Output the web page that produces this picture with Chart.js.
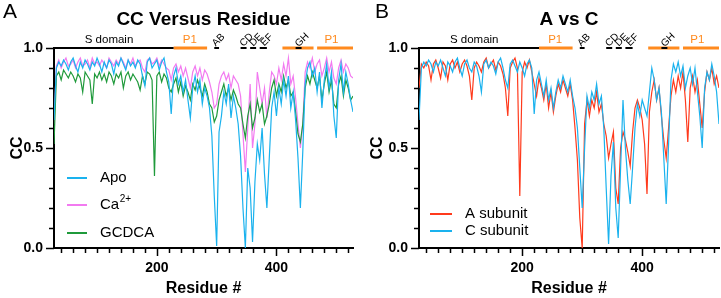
<!DOCTYPE html>
<html>
<head>
<meta charset="utf-8">
<script src="https://cdn.jsdelivr.net/npm/chart.js@4.4.1/dist/chart.umd.min.js"></script>
<style>
  body { margin: 0; background: #fff; }
  .panel { position: absolute; top: 0; height: 298px; }
  #panelA { left: 0; width: 360px; }
  #panelB { left: 360px; width: 361px; }
</style>
</head>
<body>
<div class="panel" id="panelA"><canvas id="chartA"></canvas></div>
<div class="panel" id="panelB"><canvas id="chartB"></canvas></div>
<script>
// residue numbers, sampled every 4 residues (28 .. 528)
const residues = Array.from({ length: 126 }, (_, i) => 28 + 4 * i);

// panel A: CC per residue
const apo = [
  .64,.90,.93,.91,.94,.92,.89,.93,.95,.91,
  .88,.93,.90,.94,.92,.89,.93,.91,.95,.92,
  .88,.93,.90,.94,.92,.87,.93,.91,.95,.92,
  .89,.94,.91,.93,.90,.94,.92,.86,.81,.93,
  .95,.90,.92,.94,.89,.93,.95,.88,.83,.67,
  .86,.90,.82,.86,.78,.84,.74,.65,.80,.86,
  .78,.84,.72,.80,.76,.70,.56,.26,.01,.58,
  .66,.78,.72,.82,.65,.76,.70,.62,.46,.20,
  .00,.40,.30,.03,.33,.52,.44,.60,.37,.20,
  .45,.70,.78,.66,.80,.72,.84,.76,.86,.70,
  .78,.64,.45,.20,.48,.82,.90,.93,.86,.90,
  .78,.88,.70,.84,.92,.80,.88,.66,.55,.84,
  .92,.78,.88,.82,.74,.68
];
const calcium = [
  .62,.91,.94,.90,.93,.95,.91,.92,.94,.90,
  .93,.95,.91,.92,.94,.90,.95,.92,.93,.91,
  .94,.92,.90,.95,.93,.91,.94,.92,.95,.93,
  .90,.94,.92,.95,.91,.93,.94,.90,.88,.94,
  .95,.92,.93,.95,.91,.94,.92,.90,.89,.84,
  .90,.92,.88,.91,.86,.90,.85,.80,.88,.91,
  .86,.90,.84,.89,.87,.83,.78,.70,.72,.82,
  .86,.88,.84,.87,.80,.86,.84,.82,.76,.57,
  .38,.60,.82,.50,.62,.88,.80,.72,.80,.65,
  .78,.88,.86,.82,.90,.84,.92,.86,.95,.82,
  .86,.75,.62,.50,.62,.88,.93,.90,.95,.88,
  .92,.94,.86,.90,.95,.88,.93,.85,.82,.90,
  .94,.88,.92,.90,.86,.85
];
const gcdca = [
  .52,.86,.88,.84,.89,.87,.85,.88,.86,.83,
  .87,.85,.78,.88,.86,.84,.72,.87,.85,.88,
  .84,.87,.83,.88,.86,.82,.87,.85,.88,.80,
  .86,.88,.84,.87,.85,.83,.79,.86,.82,.88,
  .87,.84,.36,.86,.88,.83,.87,.85,.80,.78,
  .82,.85,.78,.83,.76,.81,.78,.74,.82,.79,
  .84,.80,.76,.82,.78,.72,.70,.63,.66,.74,
  .78,.82,.76,.80,.74,.79,.76,.72,.70,.62,
  .55,.66,.72,.60,.65,.74,.68,.72,.62,.66,
  .72,.80,.84,.76,.82,.78,.86,.80,.84,.76,
  .78,.68,.57,.53,.62,.80,.86,.82,.88,.84,
  .80,.86,.74,.82,.88,.78,.84,.72,.70,.82,
  .86,.76,.84,.80,.74,.76
];

// panel B: A subunit vs C subunit
const subunitA = [
  .80,.92,.90,.93,.91,.84,.92,.94,.90,.85,
  .93,.91,.84,.92,.94,.90,.93,.88,.92,.94,
  .91,.86,.74,.90,.93,.91,.88,.93,.95,.90,
  .92,.94,.89,.93,.91,.87,.80,.66,.90,.93,
  .95,.90,.26,.88,.93,.90,.94,.88,.82,.76,
  .85,.80,.74,.82,.70,.78,.68,.76,.82,.78,
  .84,.80,.76,.82,.74,.60,.44,.15,.00,.62,
  .74,.66,.74,.70,.78,.68,.72,.62,.56,.45,
  .52,.58,.30,.22,.50,.58,.54,.48,.41,.58,
  .70,.74,.70,.64,.52,.27,.68,.78,.84,.74,
  .80,.66,.54,.45,.60,.76,.84,.78,.86,.80,
  .88,.74,.53,.80,.86,.78,.84,.72,.60,.78,
  .88,.84,.90,.82,.86,.80
];
const subunitC = [
  .64,.90,.93,.91,.94,.92,.88,.93,.91,.94,
  .90,.86,.93,.91,.88,.93,.95,.90,.86,.92,
  .94,.90,.88,.93,.91,.86,.78,.92,.94,.90,
  .93,.91,.87,.93,.95,.90,.84,.80,.92,.94,
  .91,.88,.93,.90,.86,.92,.94,.90,.67,.84,
  .88,.82,.76,.84,.74,.80,.70,.78,.84,.80,
  .86,.82,.78,.84,.76,.70,.60,.40,.20,.50,
  .76,.70,.78,.74,.82,.72,.76,.60,.30,.02,
  .36,.53,.20,.05,.40,.74,.50,.34,.22,.40,
  .60,.72,.66,.74,.70,.66,.78,.90,.84,.74,
  .80,.68,.45,.22,.52,.84,.92,.88,.93,.86,
  .91,.80,.86,.90,.82,.90,.78,.66,.50,.80,
  .88,.84,.92,.86,.78,.62
];

const yTickLabels = [0, 0.5, 1.0];
const xTickLabels = [200, 400];

// domain map drawn along the top (residue ranges)
const blackDomains = [[28, 228], [296, 304], [340, 350], [356, 366], [372, 384], [432, 442]];
const orangeDomains = [[228, 284], [410, 462], [468, 528]];
const domainNames = ['S domain', 'P1', 'AB', 'CD', 'DE', 'EF', 'GH', 'P1'];
const domainLabelAt = [120, 255, 303, 350, 366, 384, 443, 492];

const FONT = '"Liberation Sans", Arial, Helvetica, sans-serif';
const ORANGE = '#FF8A1E';
Chart.defaults.font.family = FONT;
Chart.defaults.color = '#000';

const xTickValues = [];
for (let v = 40; v <= 520; v += 20) xTickValues.push(v);
const yTickValues = [0, 0.1, 0.2, 0.3, 0.4, 0.5, 0.6, 0.7, 0.8, 0.9, 1.0];

function series(values) {
  return residues.map((r, i) => ({ x: r, y: values[i] }));
}

const decorPlugin = {
  id: 'decor',
  afterDraw(chart, args, opts) {
    const { ctx, chartArea: area, scales: { x, y } } = chart;
    ctx.save();

    // tick marks (major longer than minor)
    ctx.strokeStyle = '#000';
    ctx.lineWidth = 1.5;
    ctx.beginPath();
    xTickValues.forEach(v => {
      const px = Math.round(x.getPixelForValue(v)) + 0.5;
      const len = xTickLabels.includes(v) ? 8 : 5;
      ctx.moveTo(px, area.bottom);
      ctx.lineTo(px, area.bottom + len);
    });
    yTickValues.forEach(v => {
      const py = Math.round(y.getPixelForValue(v)) + 0.5;
      const major = yTickLabels.some(t => Math.abs(t - v) < 1e-6);
      ctx.moveTo(area.left, py);
      ctx.lineTo(area.left - (major ? 8 : 5), py);
    });
    ctx.stroke();

    // domain bars along the top
    const top = y.getPixelForValue(1.0);
    ctx.lineWidth = 3;
    ctx.strokeStyle = ORANGE;
    orangeDomains.forEach(([a, b]) => {
      ctx.beginPath();
      ctx.moveTo(x.getPixelForValue(a), top);
      ctx.lineTo(x.getPixelForValue(b), top);
      ctx.stroke();
    });
    ctx.lineWidth = 2;
    ctx.strokeStyle = '#000';
    blackDomains.forEach(([a, b]) => {
      ctx.beginPath();
      ctx.moveTo(x.getPixelForValue(a), top);
      ctx.lineTo(x.getPixelForValue(b), top);
      ctx.stroke();
    });

    domainNames.forEach((name, i) => {
      const px = x.getPixelForValue(domainLabelAt[i]);
      ctx.textBaseline = 'middle';
      ctx.textAlign = 'center';
      if (name === 'S domain') {
        ctx.fillStyle = '#000';
        ctx.font = '11.5px ' + FONT;
        ctx.fillText(name, px, top - 8);
      } else if (name === 'P1') {
        ctx.fillStyle = ORANGE;
        ctx.font = '11.5px ' + FONT;
        ctx.fillText(name, px, top - 8);
      } else {
        ctx.fillStyle = '#000';
        ctx.font = '10px ' + FONT;
        ctx.save();
        ctx.translate(px, top - 8);
        ctx.rotate(-Math.PI / 4);
        ctx.fillText(name, 0, 0);
        ctx.restore();
      }
    });

    // panel letter
    ctx.fillStyle = '#000';
    ctx.font = '21px ' + FONT;
    ctx.textAlign = 'left';
    ctx.textBaseline = 'alphabetic';
    ctx.fillText(opts.letter, opts.letterX, 18);

    // legend
    ctx.textBaseline = 'middle';
    opts.legend.forEach((item, i) => {
      const ds = chart.data.datasets[item.ds];
      const ly = opts.legendY[i];
      ctx.strokeStyle = ds.borderColor;
      ctx.lineWidth = 2;
      ctx.beginPath();
      ctx.moveTo(area.left + opts.legendX, ly);
      ctx.lineTo(area.left + opts.legendX + opts.legendLine, ly);
      ctx.stroke();
      ctx.fillStyle = '#000';
      const tx = area.left + opts.legendX + opts.legendLine + 13;
      ctx.font = '15px ' + FONT;
      ctx.fillText(item.text, tx, ly);
      if (item.sup) {
        const w = ctx.measureText(item.text).width;
        ctx.font = '10px ' + FONT;
        ctx.fillText(item.sup, tx + w + 0.5, ly - 6);
      }
    });
    ctx.restore();
  }
};

function makeChart(id, title, datasets, axisWidth, rightPad, decor) {
  return new Chart(document.getElementById(id), {
    type: 'line',
    data: { datasets },
    plugins: [decorPlugin],
    options: {
      responsive: true,
      maintainAspectRatio: false,
      animation: false,
      devicePixelRatio: 1,
      layout: { padding: { left: 0, right: rightPad, top: 0, bottom: 0 } },
      elements: {
        point: { radius: 0 },
        line: { borderWidth: 1.2, tension: 0 }
      },
      plugins: {
        legend: { display: false },
        tooltip: { enabled: false },
        title: {
          display: true,
          text: title,
          fullSize: false,
          font: { size: 19, weight: 'bold' },
          color: '#000',
          padding: { top: 8, bottom: 17.2 }
        },
        decor
      },
      scales: {
        x: {
          type: 'linear',
          min: 28,
          max: 528,
          afterFit: s => { s.height = 50; },
          afterBuildTicks: s => { s.ticks = xTickValues.map(v => ({ value: v })); },
          grid: { display: true, drawOnChartArea: false, tickLength: 8, tickColor: 'rgba(0,0,0,0)' },
          border: { display: true, color: '#000', width: 2 },
          ticks: {
            autoSkip: false,
            maxRotation: 0,
            padding: 4,
            font: { size: 14, weight: 'bold' },
            callback: v => xTickLabels.includes(v) ? String(v) : ''
          },
          title: {
            display: true,
            text: 'Residue #',
            font: { size: 16, weight: 'bold' },
            padding: { top: 0, bottom: 0 }
          }
        },
        y: {
          min: 0,
          max: 1,
          afterFit: s => { s.width = axisWidth; },
          afterBuildTicks: s => { s.ticks = yTickValues.map(v => ({ value: v })); },
          grid: { display: true, drawOnChartArea: false, tickLength: 8, tickColor: 'rgba(0,0,0,0)' },
          border: { display: true, color: '#000', width: 2 },
          ticks: {
            padding: 3,
            font: { size: 14, weight: 'bold' },
            callback: v => yTickLabels.some(t => Math.abs(t - v) < 1e-6) ? v.toFixed(1) : ''
          },
          title: {
            display: true,
            text: 'CC',
            font: { size: 16, weight: 'bold' },
            padding: { top: 8, bottom: 0 }
          }
        }
      }
    }
  });
}

makeChart('chartA', 'CC Versus Residue', [
  { label: 'Apo', data: series(apo), borderColor: '#1AB2EE' },
  { label: 'GCDCA', data: series(gcdca), borderColor: '#1F9A3B' },
  { label: 'Ca²⁺', data: series(calcium), borderColor: '#F27AF0' }
], 54, 7, {
  letter: 'A', letterX: 3,
  legendX: 13, legendLine: 20, legendY: [178, 205, 233],
  legend: [{ ds: 0, text: 'Apo' }, { ds: 2, text: 'Ca', sup: '2+' }, { ds: 1, text: 'GCDCA' }]
});

makeChart('chartB', 'A vs C', [
  { label: 'C subunit', data: series(subunitC), borderColor: '#1AB2EE' },
  { label: 'A subunit', data: series(subunitA), borderColor: '#FF3A1C' }
], 59, 2, {
  letter: 'B', letterX: 15,
  legendX: 11, legendLine: 22, legendY: [214, 231],
  legend: [{ ds: 1, text: 'A subunit' }, { ds: 0, text: 'C subunit' }]
});
</script>
</body>
</html>
